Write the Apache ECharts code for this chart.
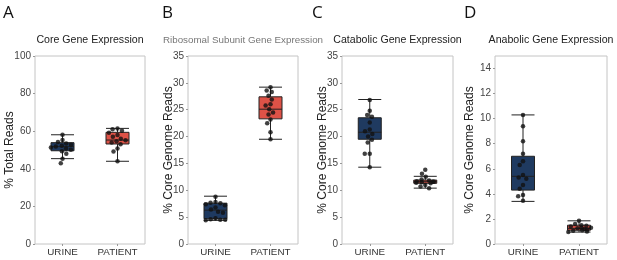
<!DOCTYPE html>
<html>
<head>
<meta charset="utf-8">
<script src="https://cdn.jsdelivr.net/npm/echarts@6/dist/echarts.min.js"></script>
<style>
  html, body { margin: 0; padding: 0; background: #fff; }
  #chart { width: 617px; height: 260px; }
</style>
</head>
<body>
<div id="chart"></div>
<script>
const categories = ['URINE', 'PATIENT'];
const panelLetters = ['A', 'B', 'C', 'D'];
const panelTitles = ['Core Gene Expression', 'Ribosomal Subunit Gene Expression', 'Catabolic Gene Expression', 'Anabolic Gene Expression'];
const yNames = ['% Total Reads', '% Core Genome Reads', '% Core Genome Reads', '% Core Genome Reads'];
const yMax = [100, 35, 35, 15];
const yStep = [20, 5, 5, 2];

// box stats: [min, q1, median, q3, max] for URINE, PATIENT
const coreBox = [[45.4, 49.6, 51.8, 53.9, 58.1], [44.0, 53.2, 55.3, 59.4, 61.5]];
const riboBox = [[4.4, 4.7, 6.3, 7.6, 8.9], [19.5, 23.3, 25.1, 27.4, 29.2]];
const cataBox = [[14.3, 19.5, 20.8, 23.5, 26.9], [10.4, 11.3, 11.6, 11.9, 12.6]];
const anaBox = [[3.4, 4.3, 5.4, 7.0, 10.3], [0.95, 1.1, 1.25, 1.5, 1.85]];

// individual samples
const corePts = [
  [58.1, 55.3, 54.2, 53.5, 52.8, 52.2, 51.8, 51.3, 50.8, 50.1, 49.3, 48.0, 45.4, 42.9],
  [61.5, 61.0, 60.3, 59.2, 58.0, 57.0, 56.0, 55.2, 54.6, 54.0, 53.0, 50.8, 49.2, 44.0]
];
const riboPts = [
  [8.8, 7.8, 7.7, 7.6, 7.4, 7.2, 6.8, 6.4, 6.0, 5.8, 4.8, 4.6, 4.5, 4.5, 4.4],
  [29.2, 28.6, 28.3, 27.6, 26.9, 26.0, 25.8, 25.1, 24.5, 24.1, 23.2, 22.5, 20.8, 19.5]
];
const cataPts = [
  [26.8, 24.8, 24.0, 23.7, 22.6, 21.3, 21.0, 20.5, 20.0, 19.4, 18.9, 16.8, 16.8, 14.3],
  [13.8, 13.1, 12.5, 12.0, 11.8, 11.7, 11.6, 11.6, 11.5, 11.4, 11.3, 11.0, 10.7, 10.4]
];
const anaPts = [
  [10.3, 9.4, 8.2, 7.2, 6.6, 6.3, 5.5, 5.3, 5.2, 4.7, 4.4, 3.9, 3.8, 3.45],
  [1.85, 1.6, 1.5, 1.45, 1.4, 1.3, 1.3, 1.25, 1.2, 1.15, 1.1, 1.05, 1.0, 0.95]
];

const boxes = [coreBox, riboBox, cataBox, anaBox];
const points = [corePts, riboPts, cataPts, anaPts];
const boxColors = ['#1f3a60', '#de5247'];

const grids = [
  { left: 35, top: 56, width: 110, height: 188 },
  { left: 188, top: 56, width: 110, height: 188 },
  { left: 342, top: 56, width: 111, height: 188 },
  { left: 495, top: 56, width: 112, height: 188 }
];
const letterX = [3, 162, 312, 464];
const nameGaps = [19, 13, 13, 19];

const font = 'Liberation Sans, Arial, sans-serif';

let option = {
  animation: false,
  graphic: [],
  grid: [],
  xAxis: [],
  yAxis: [],
  series: []
};

grids.forEach((g, i) => {
  option.grid.push(Object.assign({ show: true, borderColor: '#c4c4c4', borderWidth: 1, containLabel: false }, g));
  option.graphic.push({
    type: 'text', left: letterX[i], top: 5,
    style: { text: panelLetters[i], font: '17px "Open Sans", sans-serif', fill: '#111' }
  });
  option.graphic.push({
    type: 'text', x: g.left + g.width / 2, y: 40,
    style: {
      text: panelTitles[i], textAlign: 'center', textVerticalAlign: 'middle',
      font: (i === 1 ? '9.8px ' : '10.6px ') + font, fill: i === 1 ? '#777' : '#222'
    }
  });
  option.xAxis.push({
    type: 'category', gridIndex: i, data: categories,
    jitter: 24, jitterOverlap: false, jitterMargin: 0.5,
    axisLine: { show: false },
    axisTick: { show: true, alignWithLabel: true, length: 2, lineStyle: { color: '#999' } },
    axisLabel: { interval: 0, margin: 3, fontFamily: font, fontSize: 9.8, color: '#333' },
    splitLine: { show: false }
  });
  option.yAxis.push({
    type: 'value', gridIndex: i, min: 0, max: yMax[i], interval: yStep[i],
    name: yNames[i], nameLocation: 'middle', nameGap: nameGaps[i], nameMoveOverlap: false,
    nameTextStyle: { fontFamily: font, fontSize: 12, color: '#222' },
    axisLine: { show: false },
    axisTick: { show: true, length: 2, lineStyle: { color: '#999' } },
    axisLabel: { margin: 4, fontFamily: font, fontSize: 10, color: '#444', showMaxLabel: yMax[i] % yStep[i] === 0 },
    splitLine: { show: false }
  });
  option.series.push({
    type: 'boxplot', xAxisIndex: i, yAxisIndex: i,
    boxWidth: [23, 23],
    data: boxes[i].map((b, k) => ({
      value: b,
      itemStyle: { color: boxColors[k], borderColor: '#222', borderWidth: 1 }
    }))
  });
  const pts = [];
  points[i].forEach((arr, k) => arr.forEach(v => pts.push([k, v])));
  option.series.push({
    type: 'scatter', xAxisIndex: i, yAxisIndex: i,
    symbolSize: 4.5,
    itemStyle: { color: '#111' },
    data: pts,
    z: 5
  });
});

const chart = echarts.init(document.getElementById('chart'));
chart.setOption(option);
</script>
</body>
</html>
